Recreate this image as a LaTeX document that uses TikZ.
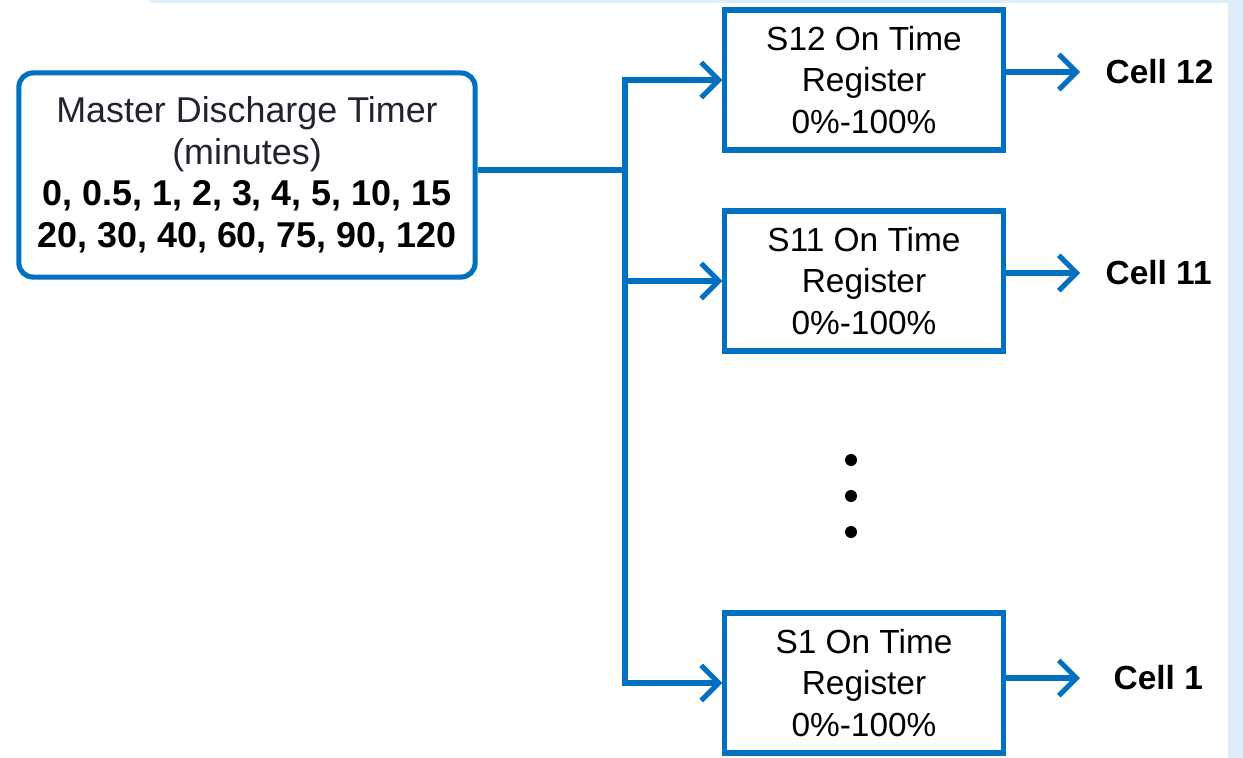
\documentclass[tikz,border=0pt]{standalone}
\usepackage{fontspec}
\setmainfont{Liberation Sans}
\usepackage[RGB]{xcolor}
\usetikzlibrary{arrows.meta}
\definecolor{W}{RGB}{0,112,192}
\definecolor{S}{RGB}{222,238,249}
\definecolor{T}{RGB}{35,35,48}
\tikzset{
  wire/.style={draw=W, line width=1.45pt},
  feed/.style={wire, -{Straight Barb[length=5pt, width=10pt, line width=1.45pt]}},
  timerbox/.style={wire, rounded corners=4pt, fill=white, align=center,
    minimum width=4.56cm, minimum height=2.04cm, inner sep=0pt,
    font=\fontsize{10.2}{11.8}\selectfont},
  regbox/.style={wire, fill=white, align=center, minimum width=2.78cm,
    minimum height=1.40cm, inner sep=0pt, font=\fontsize{9.5}{11.7}\selectfont},
  celllabel/.style={anchor=west, inner sep=0pt, font=\fontsize{9.5}{11}\selectfont\bfseries}
}
\newcommand{\registerbox}[3]{\node[regbox] (#1) at (864,#2) {#3 On Time\\Register\\0\%-100\%};}

\begin{document}
\begin{tikzpicture}[x=0.01cm, y=-0.01cm]
\useasboundingbox (0,0) rectangle (1243,758);
\fill[S] (1228,0) rectangle (1243,758);
\fill[S] (150,0) rectangle (1228,3);
\node[timerbox] (master) at (247,175) {\textcolor{T}{Master Discharge Timer}\\\textcolor{T}{(minutes)}\\
    \textbf{0, 0.5, 1, 2, 3, 4, 5, 10, 15}\\\textbf{20, 30, 40, 60, 75, 90, 120}};
\registerbox{s12}{80}{S12}
\registerbox{s11}{281}{S11}
\registerbox{s1}{683}{S1}
\node[celllabel] (cell12) at (1105,72) {Cell 12};
\node[celllabel] (cell11) at (1105,273) {Cell 11};
\node[celllabel] (cell1) at (1113,678) {Cell 1};
\coordinate (split) at (625,170);
\draw[wire] (master.east|-split) -- (split);
\foreach \s in {s12,s11,s1}{
    \draw[feed] (split) |- (\s.west);
}
\draw[feed] (s12.east|-cell12.west) -- ([xshift=-0.25cm]cell12.west);
\draw[feed] (s11.east|-cell11.west) -- ([xshift=-0.25cm]cell11.west);
\draw[feed] (s1.east|-cell1.west) -- ([xshift=-0.33cm]cell1.west);
\foreach \y in {460,496,532}{
    \fill (851,\y) circle (0.06cm);
}
\end{tikzpicture}
\end{document}
